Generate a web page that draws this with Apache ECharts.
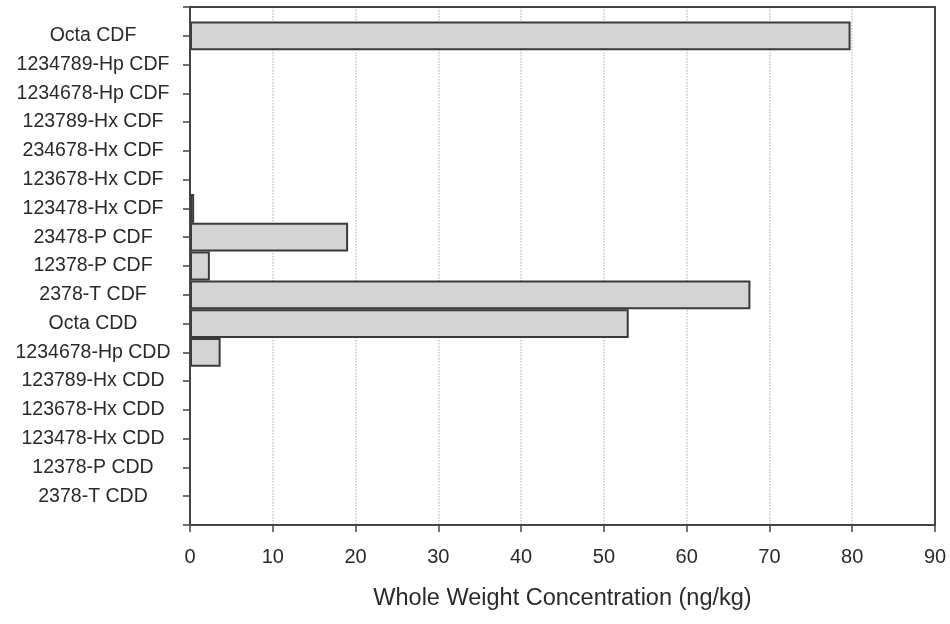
<!DOCTYPE html>
<html>
<head>
<meta charset="utf-8">
<script src="https://cdn.jsdelivr.net/npm/echarts@6/dist/echarts.min.js"></script>
<style>html,body{margin:0;padding:0;background:#fff}#c{width:950px;height:624px}</style>
</head>
<body>
<div id="c"></div>
<script>
// Categories from bottom to top (blank entries pad the axis ends)
const categories = ['', '2378-T CDD', '12378-P CDD', '123478-Hx CDD', '123678-Hx CDD', '123789-Hx CDD',
  '1234678-Hp CDD', 'Octa CDD', '2378-T CDF', '12378-P CDF', '23478-P CDF', '123478-Hx CDF',
  '123678-Hx CDF', '234678-Hx CDF', '123789-Hx CDF', '1234678-Hp CDF', '1234789-Hp CDF', 'Octa CDF', ''];
const values = [null, 0, 0, 0, 0, 0, 3.7, 53.0, 67.7, 2.4, 19.1, 0.5, 0, 0, 0, 0, 0, 79.8, null];
const xTicks = [0, 10, 20, 30, 40, 50, 60, 70, 80, 90];
const xTitle = 'Whole Weight Concentration (ng/kg)';

const font = 'Liberation Sans, Arial, Helvetica, sans-serif';
const frame = { color: '#444', width: 2 };
const chart = echarts.init(document.getElementById('c'));
chart.setOption({
  animation: false,
  backgroundColor: '#fff',
  grid: { left: 190, right: 15, top: 7, bottom: 99, show: false, containLabel: false },
  xAxis: [{
    type: 'value', min: xTicks[0], max: xTicks[xTicks.length - 1], interval: 10,
    name: xTitle, nameLocation: 'middle', nameGap: 62,
    nameTextStyle: { fontFamily: font, fontSize: 23.5, color: '#2a2a2a' },
    axisLine: { show: true, onZero: false, lineStyle: frame },
    axisTick: { show: true, length: 7, lineStyle: { color: '#444', width: 1.5 } },
    axisLabel: { fontFamily: font, fontSize: 20, color: '#2a2a2a', margin: 22 },
    splitLine: { show: true, lineStyle: { color: '#c8c8c8', type: 'dotted', width: 1.5 } },
    z: 1
  }, {
    type: 'value', position: 'top', min: xTicks[0], max: xTicks[xTicks.length - 1], interval: 10,
    axisLine: { show: true, onZero: false, lineStyle: frame }, axisTick: { show: false }, axisLabel: { show: false },
    splitLine: { show: false }, z: 5
  }],
  yAxis: [{
    type: 'category', data: categories, boundaryGap: false,
    axisLine: { show: true, onZero: false, lineStyle: frame },
    axisTick: { show: true, length: 7, alignWithLabel: true, lineStyle: { color: '#444', width: 1.5 } },
    axisLabel: { fontFamily: font, fontSize: 19.5, color: '#2a2a2a', align: 'center', margin: 97, interval: 0 },
    splitLine: { show: false }, z: 5
  }, {
    type: 'category', data: categories, boundaryGap: false, position: 'right',
    axisLine: { show: true, onZero: false, lineStyle: frame }, axisTick: { show: false }, axisLabel: { show: false },
    splitLine: { show: false }, z: 5
  }],
  series: [{
    type: 'bar', data: values, barWidth: '100%', xAxisIndex: 0, yAxisIndex: 0,
    itemStyle: { color: '#d4d4d4', borderColor: '#3a3a3a', borderWidth: 2 }
  }]
});
</script>
</body>
</html>
